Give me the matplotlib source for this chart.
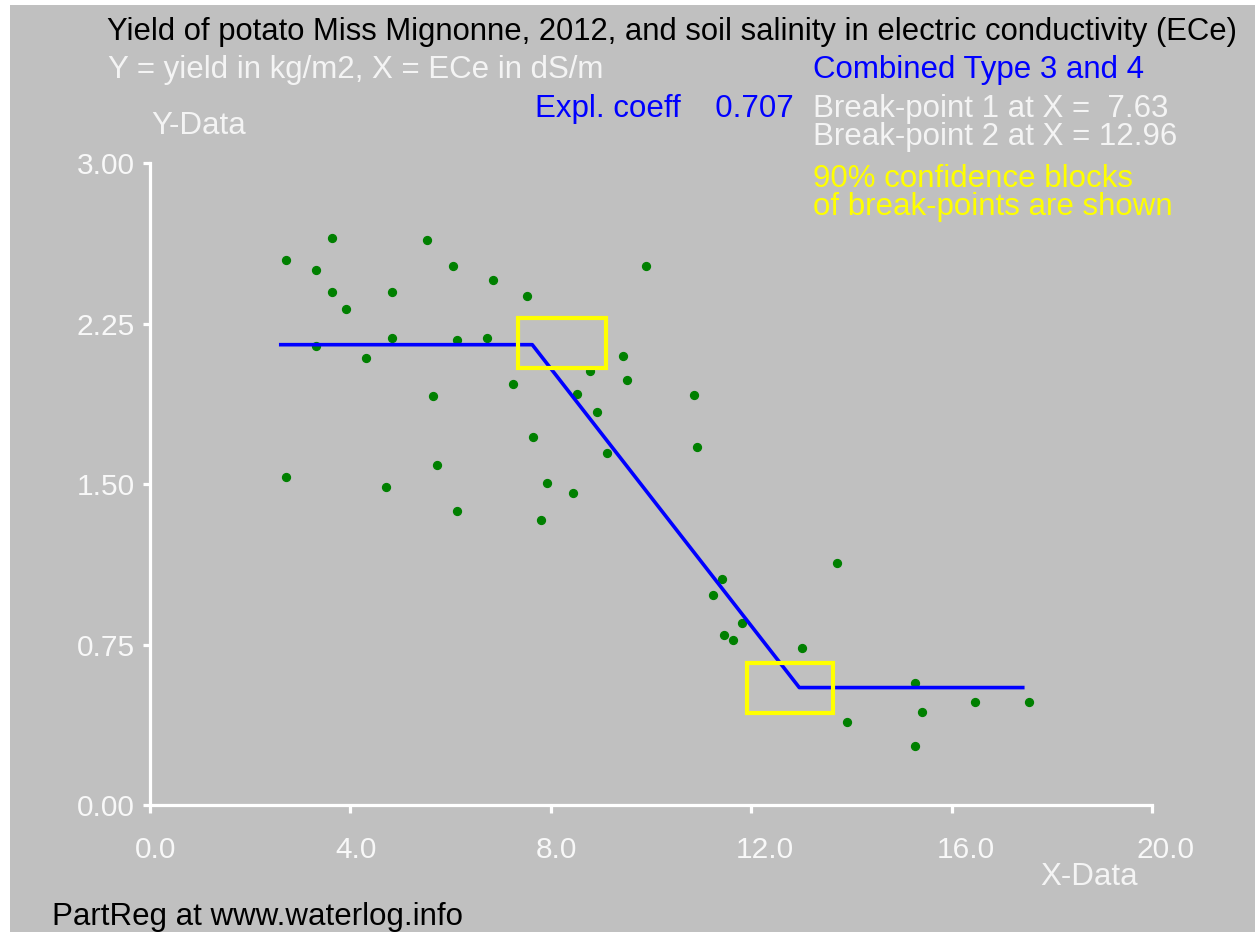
import matplotlib
matplotlib.use("Agg")
import matplotlib.pyplot as plt
import matplotlib.transforms as mtransforms
from matplotlib.patches import Rectangle

plt.rcParams['font.family'] = ['Liberation Sans', 'DejaVu Sans']

# observed data: ECe (dS/m) and yield (kg/m2)
ece = [2.71, 3.32, 3.64, 3.64, 3.92, 4.84, 5.52, 6.04, 6.84, 7.52, 9.91,
       4.84, 6.12, 6.72, 3.32, 4.32, 9.44, 8.79, 9.52, 7.24, 8.52, 8.92,
       5.64, 7.64, 9.12, 2.71, 5.72, 4.71, 7.92, 8.44, 6.12, 7.80,
       10.86, 10.92, 13.72, 11.41, 11.24, 11.81, 11.64, 11.46, 13.01,
       15.26, 16.46, 17.54, 15.41, 13.92, 15.26]
yld = [2.55, 2.50, 2.65, 2.40, 2.32, 2.40, 2.64, 2.52, 2.455, 2.38, 2.52,
       2.185, 2.175, 2.185, 2.144, 2.089, 2.099, 2.027, 1.985, 1.968, 1.921, 1.835,
       1.910, 1.722, 1.647, 1.535, 1.591, 1.488, 1.507, 1.460, 1.375, 1.331,
       1.919, 1.675, 1.131, 1.056, 0.980, 0.850, 0.772, 0.795, 0.735,
       0.569, 0.483, 0.483, 0.436, 0.389, 0.275]

# fitted broken line
fit_x = [2.61, 7.63, 12.96, 17.42]
fit_y = [2.152, 2.152, 0.549, 0.549]

# 90% confidence blocks of the break-points (x0, x1, y0, y1)
blocks = [(7.35, 9.10, 2.042, 2.275),
          (11.91, 13.64, 0.429, 0.662)]

xticks = [0, 4, 8, 12, 16, 20]
yticks = [0, 0.75, 1.5, 2.25, 3.0]

W, H = 1255, 932
fig = plt.figure(figsize=(W / 100, H / 100), dpi=100, facecolor='white')
fig.patches.append(Rectangle((10 / W, 0), 1 - 10 / W, 1 - 5 / H, transform=fig.transFigure,
                             facecolor='#C0C0C0', edgecolor='none', zorder=-10))

ax = fig.add_axes([150 / W, 1 - 805 / H, 1002 / W, (805 - 163.3) / H])
ax.set_facecolor('none')
ax.set_xlim(0, 20)
ax.set_ylim(0, 3)
for s in ['top', 'right']:
    ax.spines[s].set_visible(False)
for s in ['left', 'bottom']:
    ax.spines[s].set_color('white')
    ax.spines[s].set_linewidth(2.3)

ax.set_xticks(xticks)
ax.set_xticklabels(['%.1f' % v for v in xticks])
ax.set_yticks(yticks)
ax.set_yticklabels(['%.2f' % v for v in yticks])
ax.tick_params(axis='x', colors='white', length=6, width=2.3, pad=16, labelsize=21.5,
               labelcolor='#F8F8F8')
ax.tick_params(axis='y', colors='white', length=5, width=2.3, pad=6, labelsize=21.5,
               labelcolor='#F8F8F8')
off = mtransforms.ScaledTranslation(-15 / 100, 0, fig.dpi_scale_trans)
for lbl in ax.get_xticklabels():
    lbl.set_horizontalalignment('left')
    lbl.set_transform(lbl.get_transform() + off)

ax.scatter(ece, yld, s=32, color='#008000', zorder=2, clip_on=False)
ax.plot(fit_x, fit_y, color='#0000FF', lw=2.6, zorder=3)
for x0, x1, y0, y1 in blocks:
    ax.add_patch(Rectangle((x0, y0), x1 - x0, y1 - y0, fill=False,
                           edgecolor='#FFFF00', lw=3.0, zorder=4))


def txt(x, y, s, color, size=22.5):
    fig.text(x / W, 1 - y / H, s, color=color, fontsize=size, va='baseline', ha='left')


txt(107, 40, 'Yield of potato Miss Mignonne, 2012, and soil salinity in electric conductivity (ECe)', 'black', 22.3)
txt(108, 78, 'Y = yield in kg/m2, X = ECe in dS/m', '#F4F4F4')
txt(813, 78, 'Combined Type 3 and 4', '#0000FF')
txt(535, 117, 'Expl. coeff    0.707', '#0000FF')
txt(813, 117, 'Break-point 1 at X =  7.63', '#F4F4F4')
txt(813, 145, 'Break-point 2 at X = 12.96', '#F4F4F4')
txt(813, 187, '90% confidence blocks', '#FFFF00')
txt(813, 215, 'of break-points are shown', '#FFFF00')
txt(151, 134, 'Y-Data', '#F4F4F4')
txt(1040, 885, 'X-Data', '#F4F4F4')
txt(52, 925, 'PartReg at www.waterlog.info', 'black')

fig.savefig('out.png', dpi=100, facecolor=fig.get_facecolor())
